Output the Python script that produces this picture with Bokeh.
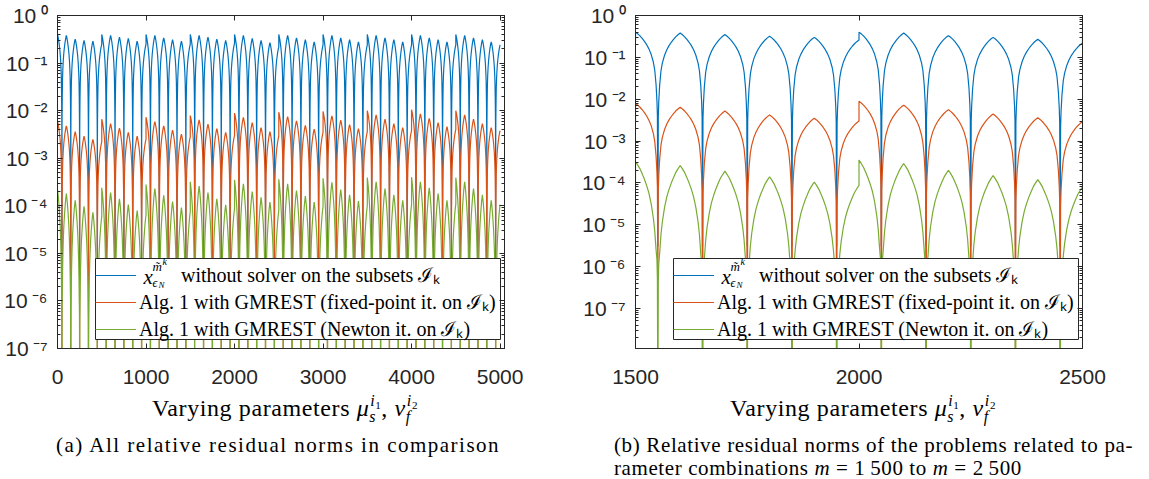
import math
from bokeh.plotting import figure
from bokeh.models import (Range1d, LogAxis, LinearAxis, FixedTicker, CustomJSTickFormatter,
                          Legend, LegendItem, Label, Div)
from bokeh.layouts import row, column
from bokeh.embed import file_html
from bokeh.resources import INLINE

# ---------------- data ----------------
series_labels = [
    "\u2003\u2002\u2009\u2009\u2009without solver on the subsets \u2110\u2096",
    "Alg. 1 with GMREST (fixed-point it. on \u2110\u2096)",
    "Alg. 1 with GMREST (Newton it. on \u2110\u2096)",
]
series_colors = ["#0072BD", "#D95319", "#77AC30"]

block_length = 100          # parameter combinations per block
blocks_per_group = 5        # blocks between the jumps

# residual value at the start of each block (cusp values), 50 blocks
blue_start = [
    0.40, 0.38, 0.32, 0.30, 0.29,
    0.40, 0.38, 0.35, 0.33, 0.29,
    0.40, 0.38, 0.34, 0.31, 0.29,
    0.40, 0.38, 0.35, 0.32, 0.30,
    0.40, 0.38, 0.33, 0.30, 0.27,
    0.40, 0.38, 0.34, 0.31, 0.28,
    0.40, 0.38, 0.34, 0.31, 0.28,
    0.40, 0.38, 0.34, 0.31, 0.28,
    0.40, 0.38, 0.34, 0.31, 0.28,
    0.40, 0.38, 0.34, 0.31, 0.28,
]
blue_group_end = [0.25, 0.25, 0.25, 0.26, 0.22, 0.24, 0.24, 0.24, 0.24, 0.24]

red_start = [
    6.0e-3, 4.8e-3, 3.6e-3, 2.9e-3, 2.5e-3,
    6.6e-3, 5.3e-3, 4.3e-3, 3.5e-3, 2.9e-3,
    7.3e-3, 5.9e-3, 4.8e-3, 3.9e-3, 3.2e-3,
    7.9e-3, 6.4e-3, 5.2e-3, 4.2e-3, 3.5e-3,
    8.9e-3, 7.2e-3, 5.6e-3, 4.4e-3, 3.6e-3,
    9.3e-3, 7.5e-3, 6.1e-3, 4.9e-3, 4.1e-3,
    9.6e-3, 7.8e-3, 6.3e-3, 5.1e-3, 4.2e-3,
    1.0e-2, 8.1e-3, 6.6e-3, 5.3e-3, 4.4e-3,
    1.05e-2, 8.5e-3, 6.9e-3, 5.6e-3, 4.6e-3,
    1.0e-2, 8.1e-3, 6.6e-3, 5.3e-3, 4.4e-3,
]
red_group_end = [2.2e-3, 2.5e-3, 2.8e-3, 3.0e-3, 2.9e-3, 3.5e-3, 3.6e-3, 3.8e-3, 4.0e-3, 3.8e-3]

green_start = [
    2.2e-4, 1.8e-4, 1.3e-4, 9.7e-5, 7.3e-5,
    2.4e-4, 1.9e-4, 1.4e-4, 1.06e-4, 7.9e-5,
    2.8e-4, 2.3e-4, 1.65e-4, 1.23e-4, 9.2e-5,
    3.2e-4, 2.6e-4, 1.9e-4, 1.4e-4, 1.05e-4,
    3.5e-4, 2.9e-4, 2.0e-4, 1.5e-4, 1.2e-4,
    3.6e-4, 2.9e-4, 2.1e-4, 1.6e-4, 1.2e-4,
    3.8e-4, 3.1e-4, 2.2e-4, 1.7e-4, 1.25e-4,
    3.9e-4, 3.2e-4, 2.3e-4, 1.7e-4, 1.3e-4,
    4.0e-4, 3.2e-4, 2.4e-4, 1.8e-4, 1.3e-4,
    3.9e-4, 3.2e-4, 2.3e-4, 1.7e-4, 1.3e-4,
]
green_group_end = [5.9e-5, 6.5e-5, 7.6e-5, 8.7e-5, 8.0e-5, 9.7e-5, 1.0e-4, 1.05e-4, 1.1e-4, 1.05e-4]

# shape of one arc: offset from the cusp and drop in decades
profile_offsets = [0, 5, 10, 15, 20, 25, 30, 35, 40, 43, 46, 48, 49]
profile_blue_red = [0, -0.04, -0.09, -0.15, -0.22, -0.30, -0.40, -0.53, -0.72, -0.90, -1.25, -1.65, -2.0]
profile_green = [0, -0.08, -0.17, -0.29, -0.42, -0.57, -0.75, -1.0, -1.35, -1.65, -2.1, -2.35, -2.8]

dip_blue = 3e-6
dip_red = 3e-9
dip_green = 1e-10
red_dip_block15 = 5.5e-7

x_ticks_a = [0, 1000, 2000, 3000, 4000, 5000]
x_ticks_b = [1500, 2000, 2500]


def build(start, group_end, profile, dip, special=None):
    special = special or {}
    xs, ys = [], []
    n = len(start)
    for b in range(n):
        x0 = b * block_length
        s = start[b]
        if b % blocks_per_group == blocks_per_group - 1 or b + 1 >= n:
            e = group_end[b // blocks_per_group]
        else:
            e = start[b + 1]
        for off, d in zip(profile_offsets, profile):
            xs.append(x0 + off)
            ys.append(s * 10 ** d)
        xs.append(x0 + block_length // 2)
        ys.append(special.get(b, dip))
        for off, d in reversed(list(zip(profile_offsets, profile))):
            xs.append(x0 + block_length - off)
            ys.append(e * 10 ** d)
    return xs, ys


series = [
    build(blue_start, blue_group_end, profile_blue_red, dip_blue),
    build(red_start, red_group_end, profile_blue_red, dip_red, {15: red_dip_block15}),
    build(green_start, green_group_end, profile_green, dip_green),
]

# ---------------- styling helpers ----------------
AX = "#262626"
SERIF = "Liberation Serif"
SANS = "Liberation Sans"
FRAME_TOP = 15
FRAME_H = 333
FRAME_W = 447
BOTTOM = 50

sup_js = """
const sup = {"0":"\u2070","1":"\u00b9","2":"\u00b2","3":"\u00b3","4":"\u2074","5":"\u2075",
             "6":"\u2076","7":"\u2077","8":"\u2078","9":"\u2079","-":"\u207b"};
const e = Math.round(Math.log10(tick));
let s = "";
for (const c of String(e)) { s += sup[c]; }
return "10\u2009" + s;
"""
empty_js = "return '';"


def style_axis(ax, labels=True):
    ax.axis_line_color = AX
    ax.major_tick_line_color = AX
    ax.minor_tick_line_color = AX
    ax.major_tick_in = 5
    ax.major_tick_out = 0
    ax.minor_tick_in = 3
    ax.minor_tick_out = 0
    ax.major_label_text_font = SANS
    ax.major_label_text_font_size = "21px"
    ax.major_label_text_color = AX
    if not labels:
        ax.formatter = CustomJSTickFormatter(code=empty_js)
        ax.major_label_standoff = 0


def make_panel(x_lo, x_hi, y_lo, xticks, ylog_ticks, minor_exps, border_left, border_right, frame_left):
    p = figure(width=border_left + FRAME_W + border_right, height=FRAME_TOP + FRAME_H + BOTTOM,
               frame_width=FRAME_W, frame_height=FRAME_H,
               x_range=Range1d(x_lo, x_hi), y_range=Range1d(y_lo, 1.0),
               y_axis_type="log", output_backend="svg", toolbar_location=None,
               min_border_left=border_left, min_border_right=border_right,
               min_border_top=FRAME_TOP, min_border_bottom=BOTTOM)
    p.xgrid.visible = False
    p.ygrid.visible = False
    p.outline_line_color = AX
    p.background_fill_color = "white"
    p.border_fill_color = "white"

    yminor = [j * 10.0 ** k for k in minor_exps for j in range(2, 10)]
    yt = FixedTicker(ticks=ylog_ticks, minor_ticks=yminor)
    xt = FixedTicker(ticks=xticks, minor_ticks=[])

    p.xaxis[0].ticker = xt
    p.yaxis[0].ticker = yt
    p.yaxis[0].formatter = CustomJSTickFormatter(code=sup_js)
    style_axis(p.xaxis[0])
    style_axis(p.yaxis[0])
    p.xaxis[0].major_label_standoff = 21
    p.yaxis[0].major_label_standoff = 10

    top = LinearAxis(ticker=xt)
    right = LogAxis(ticker=yt)
    style_axis(top, labels=False)
    style_axis(right, labels=False)
    p.add_layout(top, "above")
    p.add_layout(right, "right")

    rends = []
    for (xs, ys), c in zip(series, series_colors):
        rends.append(p.line(xs, ys, line_color=c, line_width=1.2))

    # white legend background box (page pixels -> data units), drawn over the lines
    def dx(px):
        return x_lo + (px - frame_left) / FRAME_W * (x_hi - x_lo)

    def dy(py):
        return 10 ** (math.log10(y_lo) * (py - (8 + FRAME_TOP)) / FRAME_H)

    box_l, box_r = frame_left + 38, frame_left + FRAME_W - 4
    p.quad(left=[dx(box_l)], right=[dx(box_r)], top=[dy(266)], bottom=[dy(347)],
           fill_color="white", line_color=AX, line_width=1)

    legend = Legend(items=[LegendItem(label=t, renderers=[r]) for t, r in zip(series_labels, rends)],
                    location=(38, 6))
    legend.label_text_font = SERIF
    legend.label_text_font_size = "20px"
    legend.label_text_line_height = 1.0
    legend.label_text_color = "black"
    legend.glyph_width = 41
    legend.glyph_height = 20
    legend.label_height = 20
    legend.label_standoff = 3
    legend.spacing = 0
    legend.padding = 4
    legend.margin = 0
    legend.border_line_color = None
    legend.background_fill_alpha = 0.0
    p.add_layout(legend)
    return p


def legend_symbol(p, frame_left, frame_bottom, text_left):
    """x_{eps_N}^{m~^k} drawn on the first legend entry."""
    def P(px, py, text, size):
        p.add_layout(Label(x=px - frame_left, y=frame_bottom - py, x_units="screen", y_units="screen",
                           text=text, text_font=SERIF, text_font_size=f"{size}px",
                           text_font_style="italic", text_baseline="alphabetic",
                           text_color="black"))
    P(text_left, 284, "x", 21)
    P(text_left + 9, 274, "m\u0303", 13)
    P(text_left + 19, 269, "k", 10)
    P(text_left + 9, 290, "\u03f5", 12)
    P(text_left + 15, 292, "N", 9)


p1 = make_panel(0, 5050, 1e-7, x_ticks_a, [10.0 ** k for k in range(-7, 1)], range(-7, 0), 56, 67, 64)
p2 = make_panel(1500, 2500, 1.1e-8, x_ticks_b, [10.0 ** k for k in range(-7, 1)], range(-8, 0), 64, 52, 642)

legend_symbol(p1, 64, 356, 150)
legend_symbol(p2, 642, 356, 728)

# ---------------- texts below the axes (HTML, real text) ----------------
DIV_MARGIN = -16
DIV_TOP = 8 + FRAME_TOP + FRAME_H + BOTTOM + DIV_MARGIN - 9   # observed page y of the divs' top edge
DIV_H = 479 - (8 + FRAME_TOP + FRAME_H + BOTTOM + DIV_MARGIN)
X_FIX = 8                                                      # observed horizontal offset of the divs


def span(left, baseline, size, inner, lh, extra=""):
    base_off = (lh - 1.107 * size) / 2 + 0.891 * size
    top = baseline - base_off - DIV_TOP
    return (f'<span style="position:absolute;left:{left + X_FIX:.1f}px;top:{top:.1f}px;font-size:{size}px;'
            f'line-height:{lh}px;{extra}">{inner}</span>')


def scripts(sub, sup_base, sup_idx, sub_w):
    return (f"<span style='position:relative;top:6px;font-size:16px;font-style:italic'>{sub}</span>"
            f"<span style='position:relative;top:-10px;font-size:16px;font-style:italic;margin-left:-{sub_w}px'>"
            f"{sup_base}<span style='position:relative;top:3px;font-size:11px;font-style:normal'>{sup_idx}</span>"
            f"</span>")


AXIS_LABEL = ("Varying parameters <i>\u03bc</i>" + scripts("s", "i", "1", 6)
              + ", <i>\u03bd</i>" + scripts("f", "i", "2", 4))


def axis_label_html(center):
    return span(center, 415, 24, AXIS_LABEL, 24,
                extra="white-space:nowrap;letter-spacing:0.6px;transform:translateX(-50%);")


def wrap(inner, w, h):
    return (f'<div style="position:relative;width:{w}px;height:{h}px;font-family:\'{SERIF}\',serif;'
            f'color:#000;overflow:visible;">{inner}</div>')


JUST = "white-space:normal;text-align:justify;text-align-last:justify;letter-spacing:0.6px;"
html_a = (axis_label_html(285 - 8)
          + span(278 - 8, 451, 21, "(a) All relative residual norms in comparison", 20,
                 extra="white-space:nowrap;letter-spacing:1.5px;transform:translateX(-50%);"))
html_b = (axis_label_html(863 - 578)
          + span(614 - 578, 451, 21, "(b) Relative residual norms of the problems related to pa-", 20,
                 extra=f"width:519px;{JUST}")
          + span(614 - 578, 474, 21,
                 "rameter combinations <i>m</i> = 1\u2009500 to <i>m</i> = 2\u2009500", 20,
                 extra="white-space:nowrap;letter-spacing:0.6px;"))

d1 = Div(text=wrap(html_a, 570, DIV_H), width=570, height=DIV_H, margin=(DIV_MARGIN, 0, 0, 0))
d2 = Div(text=wrap(html_b, 563, DIV_H), width=563, height=DIV_H, margin=(DIV_MARGIN, 0, 0, 0))

layout = column(row(p1, p2), row(d1, d2))
open("out.html", "w").write(file_html(layout, INLINE))
